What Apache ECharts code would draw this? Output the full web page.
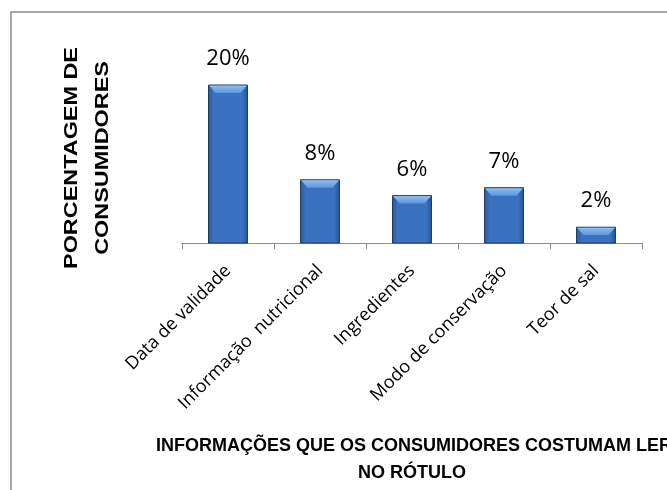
<!DOCTYPE html>
<html>
<head>
<meta charset="utf-8">
<script src="https://cdn.jsdelivr.net/npm/echarts@6/dist/echarts.min.js"></script>
<style>html,body{margin:0;padding:0;background:#fff;}#c{width:667px;height:490px;}</style>
</head>
<body>
<div id="c"></div>
<script>
const categories = ['Data de validade', 'Informação  nutricional', 'Ingredientes', 'Modo de conservação', 'Teor de sal'];
const values = [20, 8, 6, 7, 2];
const yAxisTitle = ['PORCENTAGEM DE', 'CONSUMIDORES'];
const xAxisTitle = ['INFORMAÇÕES QUE OS CONSUMIDORES COSTUMAM LER', 'NO RÓTULO'];

const chart = echarts.init(document.getElementById('c'), null, {renderer: 'canvas'});

function renderBar(params, api) {
  const idx = api.value(0);
  const val = api.value(1);
  const top = api.coord([idx, val]);
  const base = api.coord([idx, 0]);
  const w = 39;
  const x0 = top[0] - w / 2, x1 = top[0] + w / 2;
  const yT = top[1], yB = base[1];
  const bev = Math.min(8, (yB - yT) / 2);
  return {
    type: 'group',
    children: [
      {
        type: 'rect',
        shape: {x: x0, y: yT, width: w, height: yB - yT},
        style: {
          fill: new echarts.graphic.LinearGradient(0, 0, 1, 0, [
            {offset: 0, color: '#2a5696'},
            {offset: 0.14, color: '#3a72bf'},
            {offset: 0.86, color: '#3a72bf'},
            {offset: 1, color: '#264f8a'}
          ]),
          stroke: '#1f3d69', lineWidth: 1
        }
      },
      {
        type: 'polygon',
        shape: {points: [[x0 + 0.5, yT + 0.5], [x1 - 0.5, yT + 0.5], [x1 - 7, yT + bev], [x0 + 7, yT + bev]]},
        style: {
          fill: new echarts.graphic.LinearGradient(0, 0, 0, 1, [
            {offset: 0, color: '#8cc0f2'},
            {offset: 1, color: '#5b95dc'}
          ])
        }
      },
      {
        type: 'text',
        style: {
          text: val + '%', x: top[0], y: yT - 26,
          align: 'center', verticalAlign: 'middle',
          font: '22px "Open Sans"', fill: '#000'
        }
      }
    ]
  };
}

chart.setOption({
  animation: false,
  backgroundColor: '#fff',
  grid: {left: 182, right: 25, top: 45.5, bottom: 247},
  xAxis: {
    type: 'category',
    data: categories,
    boundaryGap: true,
    axisLine: {lineStyle: {color: '#8a8a8a', width: 1}},
    axisTick: {show: true, length: 6, lineStyle: {color: '#8a8a8a'}},
    axisLabel: {rotate: 45, margin: 25, interval: 0, fontFamily: 'Open Sans', fontSize: 18, color: '#000'}
  },
  yAxis: {type: 'value', min: 0, max: 25, show: false},
  series: [{
    type: 'custom',
    renderItem: renderBar,
    data: values.map((v, i) => [i, v]),
    encode: {x: 0, y: 1}
  }],
  graphic: [
    {type: 'rect', shape: {x: 11, y: 12, width: 700, height: 500}, style: {fill: 'none', stroke: '#8c8c8c', lineWidth: 1.5}, silent: true},
    {type: 'text', x: 72, y: 158, rotation: Math.PI / 2, scaleX: 1.3,
      style: {text: yAxisTitle[0], font: 'bold 18px "Liberation Sans"', fill: '#000', align: 'center', verticalAlign: 'middle'}},
    {type: 'text', x: 103, y: 158, rotation: Math.PI / 2, scaleX: 1.3,
      style: {text: yAxisTitle[1], font: 'bold 18px "Liberation Sans"', fill: '#000', align: 'center', verticalAlign: 'middle'}},
    {type: 'text', x: 414, y: 446,
      style: {text: xAxisTitle[0], font: 'bold 18px "Liberation Sans"', fill: '#000', align: 'center', verticalAlign: 'middle'}},
    {type: 'text', x: 412, y: 473,
      style: {text: xAxisTitle[1], font: 'bold 18px "Liberation Sans"', fill: '#000', align: 'center', verticalAlign: 'middle'}}
  ]
});
</script>
</body>
</html>
